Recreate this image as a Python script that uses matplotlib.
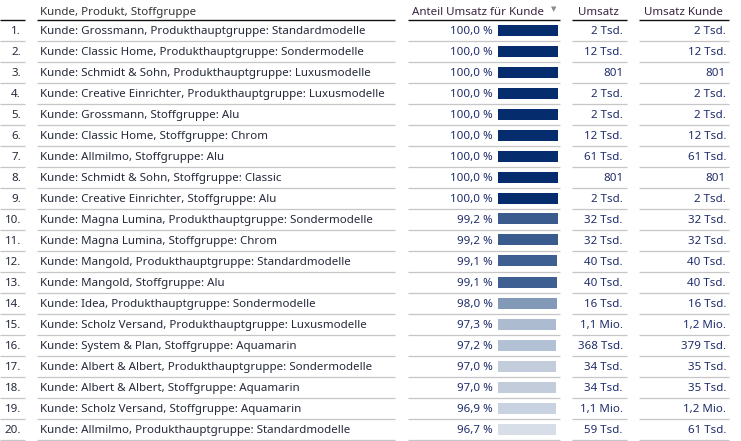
import matplotlib
matplotlib.use("Agg")
import matplotlib.pyplot as plt

plt.rcParams['font.family'] = ['Noto Sans', 'DejaVu Sans']

ranks = [f"{i}." for i in range(1, 21)]
labels = [
    "Kunde: Grossmann, Produkthauptgruppe: Standardmodelle",
    "Kunde: Classic Home, Produkthauptgruppe: Sondermodelle",
    "Kunde: Schmidt & Sohn, Produkthauptgruppe: Luxusmodelle",
    "Kunde: Creative Einrichter, Produkthauptgruppe: Luxusmodelle",
    "Kunde: Grossmann, Stoffgruppe: Alu",
    "Kunde: Classic Home, Stoffgruppe: Chrom",
    "Kunde: Allmilmo, Stoffgruppe: Alu",
    "Kunde: Schmidt & Sohn, Stoffgruppe: Classic",
    "Kunde: Creative Einrichter, Stoffgruppe: Alu",
    "Kunde: Magna Lumina, Produkthauptgruppe: Sondermodelle",
    "Kunde: Magna Lumina, Stoffgruppe: Chrom",
    "Kunde: Mangold, Produkthauptgruppe: Standardmodelle",
    "Kunde: Mangold, Stoffgruppe: Alu",
    "Kunde: Idea, Produkthauptgruppe: Sondermodelle",
    "Kunde: Scholz Versand, Produkthauptgruppe: Luxusmodelle",
    "Kunde: System & Plan, Stoffgruppe: Aquamarin",
    "Kunde: Albert & Albert, Produkthauptgruppe: Sondermodelle",
    "Kunde: Albert & Albert, Stoffgruppe: Aquamarin",
    "Kunde: Scholz Versand, Stoffgruppe: Aquamarin",
    "Kunde: Allmilmo, Produkthauptgruppe: Standardmodelle",
]
anteil = [100.0, 100.0, 100.0, 100.0, 100.0, 100.0, 100.0, 100.0, 100.0,
          99.2, 99.2, 99.1, 99.1, 98.0, 97.3, 97.2, 97.0, 97.0, 96.9, 96.7]
umsatz = ["2 Tsd.", "12 Tsd.", "801", "2 Tsd.", "2 Tsd.", "12 Tsd.", "61 Tsd.",
          "801", "2 Tsd.", "32 Tsd.", "32 Tsd.", "40 Tsd.", "40 Tsd.", "16 Tsd.",
          "1,1 Mio.", "368 Tsd.", "34 Tsd.", "34 Tsd.", "1,1 Mio.", "59 Tsd."]
umsatz_kunde = ["2 Tsd.", "12 Tsd.", "801", "2 Tsd.", "2 Tsd.", "12 Tsd.", "61 Tsd.",
                "801", "2 Tsd.", "32 Tsd.", "32 Tsd.", "40 Tsd.", "40 Tsd.", "16 Tsd.",
                "1,2 Mio.", "379 Tsd.", "35 Tsd.", "35 Tsd.", "1,2 Mio.", "61 Tsd."]
bar_colors = ["#052c6c"] * 9 + ["#3a5b8e", "#3a5b8e", "#3e5f92", "#3e5f92", "#8399b8",
                                "#adbbd0", "#b3c1d5", "#c2ccdb", "#c2ccdb", "#c9d2e0", "#d7dee8"]
headers = ["Kunde, Produkt, Stoffgruppe", "Anteil Umsatz für Kunde", "Umsatz", "Umsatz Kunde"]

W, H = 741, 441
fig = plt.figure(figsize=(W / 100, H / 100), dpi=100)
ax = fig.add_axes([0, 0, 1, 1])
y0, pitch = 30.0, 21.0
ax.set_xlim(0, W)
ax.set_ylim((H - y0) / pitch, -y0 / pitch)
ax.axis("off")

fs = 8.3
txt_col = "#252a3a"
num_col = "#1f2d6b"
head_col = "#3a2440"
bl = 0.2  # baseline offset in rows

n = len(labels)
cols = [(0, 25), (37, 395), (408, 560), (572, 627), (639, 729)]

# header
hy = -0.72
ax.text(40, hy, headers[0], ha="left", va="baseline", fontsize=fs, color="#333333")
ax.text(544, hy, headers[1], ha="right", va="baseline", fontsize=fs, color=head_col)
ax.text(554, -0.95, "▼", ha="center", va="center", fontsize=5, color="#8a8a8a")
ax.text(619, hy, headers[2], ha="right", va="baseline", fontsize=fs, color=head_col)
ax.text(723, hy, headers[3], ha="right", va="baseline", fontsize=fs, color=head_col)
for x1, x2 in cols:
    ax.plot([x1, x2], [-0.5, -0.5], color="#111111", lw=1.0, solid_capstyle="butt")

for i in range(n):
    y = i + bl
    ax.text(21, y, ranks[i], ha="right", va="baseline", fontsize=fs, color=txt_col)
    ax.text(40, y, labels[i], ha="left", va="baseline", fontsize=fs, color=txt_col)
    ax.text(493, y, f"{anteil[i]:.1f} %".replace(".", ","), ha="right", va="baseline",
            fontsize=fs, color=num_col)
    ax.text(623, y, umsatz[i], ha="right", va="baseline", fontsize=fs, color=num_col)
    ax.text(726, y, umsatz_kunde[i], ha="right", va="baseline", fontsize=fs, color=num_col)
    for x1, x2 in cols:
        ax.plot([x1, x2], [i + 0.5, i + 0.5], color="#c6c6c6", lw=0.9, solid_capstyle="butt")

# bar column
bx = fig.add_axes([498 / W, 0, 60 / W, 1])
bx.set_xlim(0, 100)
bx.set_ylim(ax.get_ylim())
bx.axis("off")
bx.barh(range(n), anteil, height=11 / pitch, color=bar_colors, left=0)

fig.savefig("out.png", dpi=100)
